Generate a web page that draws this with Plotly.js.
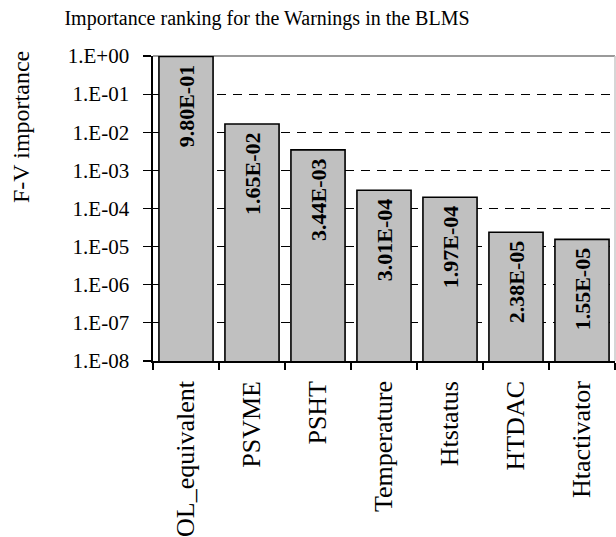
<!DOCTYPE html>
<html>
<head>
<meta charset="utf-8">
<script src="https://cdn.plot.ly/plotly-3.0.1.min.js"></script>
<style>html,body{margin:0;padding:0;background:#fff;}#chart{width:616px;height:537px;}</style>
</head>
<body>
<div id="chart"></div>
<script>
const categories = ["OL_equivalent", "PSVME", "PSHT", "Temperature", "Htstatus", "HTDAC", "Htactivator"];
const importance = [9.80e-1, 1.65e-2, 3.44e-3, 3.01e-4, 1.97e-4, 2.38e-5, 1.55e-5];
const yTickVals = [1e0, 1e-1, 1e-2, 1e-3, 1e-4, 1e-5, 1e-6, 1e-7, 1e-8];
const yTickText = ["1.E+00", "1.E-01", "1.E-02", "1.E-03", "1.E-04", "1.E-05", "1.E-06", "1.E-07", "1.E-08"];

function fmtExp(v) {
  const s = v.toExponential(2).toUpperCase();
  const m = s.match(/^(-?[\d.]+)E([+-])(\d+)$/);
  const e = m[3].length < 2 ? "0" + m[3] : m[3];
  return m[1] + "E" + m[2] + e + "\u00a0";
}
const barText = importance.map(fmtExp);

const FONT = '"Liberation Serif", "Times New Roman", serif';

const trace = {
  type: "bar",
  x: categories,
  y: importance,
  text: barText,
  textposition: "inside",
  insidetextanchor: "end",
  textangle: -90,
  constraintext: "none",
  textfont: {family: FONT, size: 22, color: "#000", weight: "bold"},
  marker: {color: "#c0c0c0", line: {color: "#000", width: 1.6}},
  hoverinfo: "none"
};

const layout = {
  width: 616, height: 537,
  margin: {l: 153, r: 1, t: 56, b: 176},
  paper_bgcolor: "#fff", plot_bgcolor: "#fff",
  showlegend: false,
  bargap: 0.18,
  font: {family: FONT, color: "#000"},
  title: {
    text: "Importance ranking for the Warnings in the BLMS",
    font: {family: FONT, size: 20, color: "#000"},
    x: 267/616, xref: "container", xanchor: "center",
    y: 1 - 18/537, yref: "container", yanchor: "middle"
  },
  xaxis: {
    type: "category",
    range: [-0.5, 6.5],
    tickson: "boundaries",
    ticks: "outside", ticklen: 7, tickwidth: 1.2, tickcolor: "#000",
    tickangle: -90,
    ticklabelstandoff: 8,
    tickfont: {family: FONT, size: 26, color: "#000"},
    showline: true, linecolor: "#000", linewidth: 1.6,
    showgrid: false, zeroline: false, fixedrange: true
  },
  yaxis: {
    type: "log",
    range: [-8, 0],
    tickvals: yTickVals, ticktext: yTickText,
    ticks: "outside", ticklen: 8, tickwidth: 1.2, tickcolor: "#000",
    ticklabelstandoff: 10,
    tickfont: {family: FONT, size: 21, color: "#000"},
    showline: true, linecolor: "#000", linewidth: 1.6,
    showgrid: true, gridcolor: "#000", gridwidth: 1, griddash: "9px,7px",
    zeroline: false, fixedrange: true
  },
  shapes: [
    {type: "line", xref: "paper", yref: "paper", x0: 0, x1: 1, y0: 1, y1: 1,
     line: {color: "#9a9a9a", width: 2}, layer: "below"},
    {type: "line", xref: "paper", yref: "paper", x0: 1, x1: 1, y0: 0, y1: 1,
     line: {color: "#c8c8c8", width: 1.5}, layer: "below"}
  ],
  annotations: [
    {text: "F-V importance", xref: "paper", yref: "paper",
     x: (21 - 153) / 462, y: (361 - 127) / 305, xanchor: "center", yanchor: "middle",
     textangle: -90, showarrow: false,
     font: {family: FONT, size: 24, color: "#000"}}
  ]
};

Plotly.newPlot("chart", [trace], layout, {staticPlot: true, displayModeBar: false});
</script>
</body>
</html>
